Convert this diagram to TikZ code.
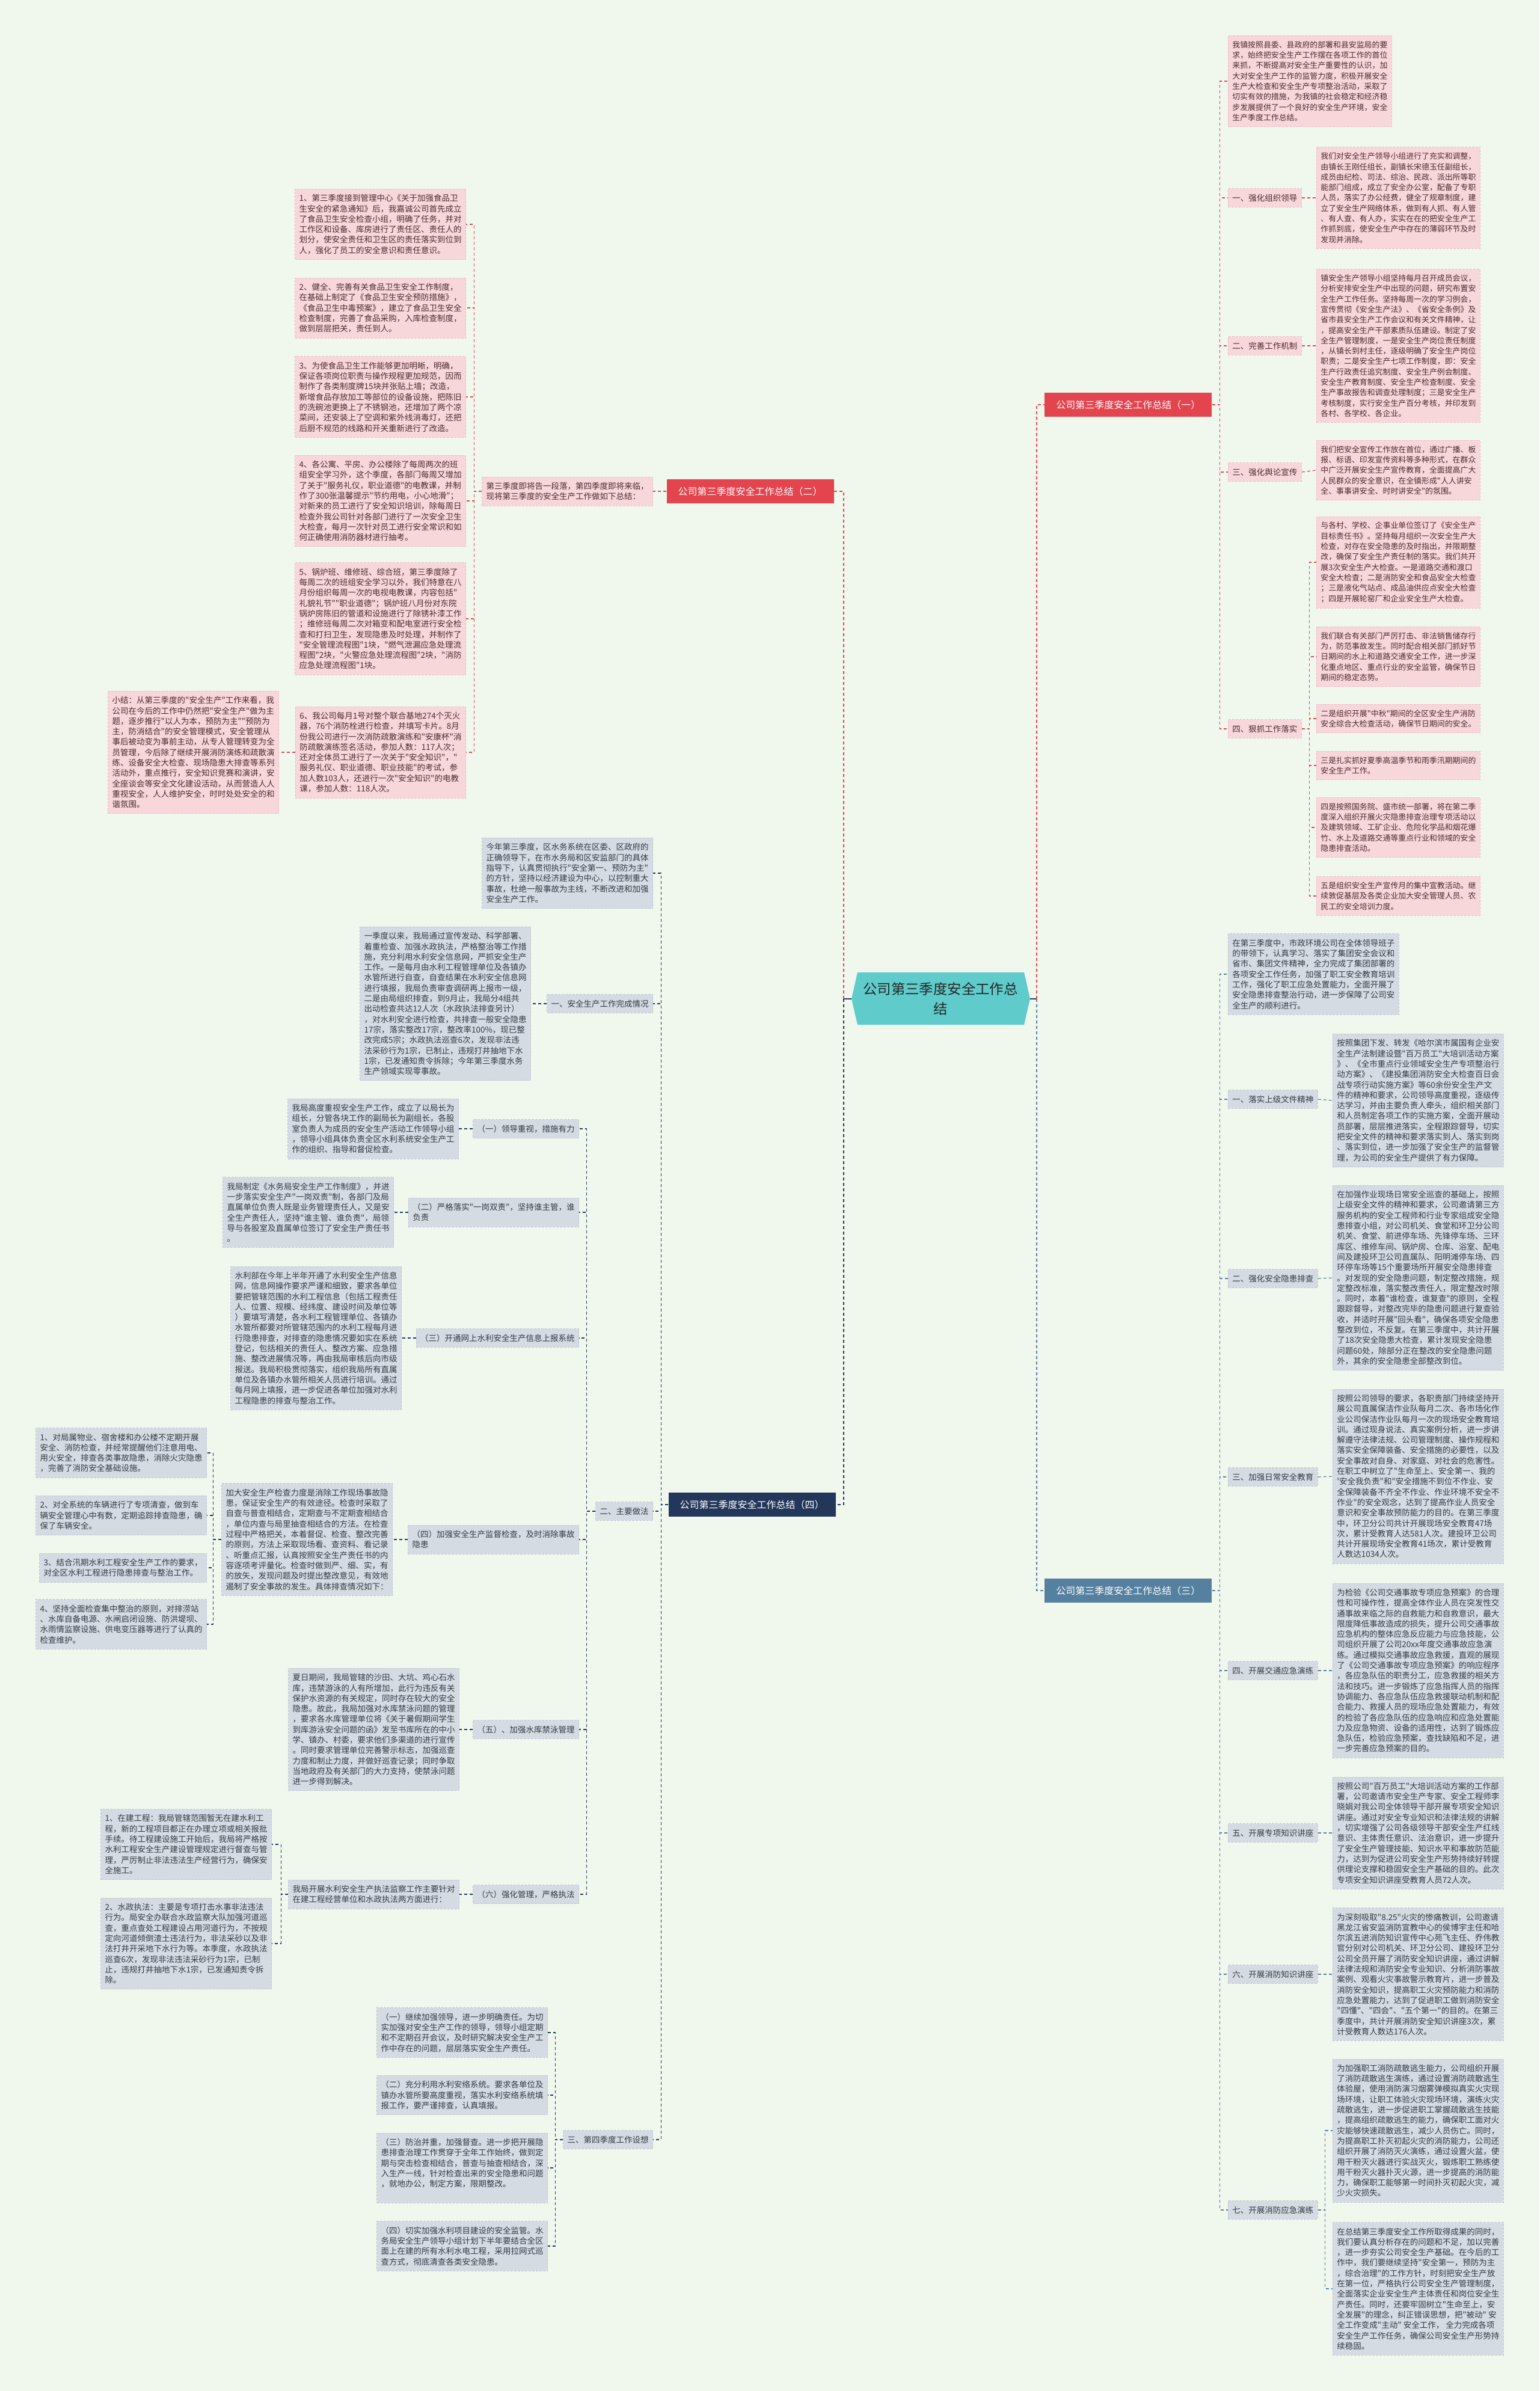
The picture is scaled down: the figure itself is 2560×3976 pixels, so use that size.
\documentclass[tikz,border=0pt]{standalone}
\usepackage{fontspec}
\newfontfamily\cjk{Noto Sans CJK SC}
\definecolor{bgc}{HTML}{F0F8EE}
\definecolor{pkfill}{HTML}{F8D7DB}
\definecolor{pkedge}{HTML}{EDBBC1}
\definecolor{pktext}{HTML}{4D2A2C}
\definecolor{gyfill}{HTML}{D5DBE3}
\definecolor{gyedge}{HTML}{BFC7D2}
\definecolor{gytext}{HTML}{333A44}
\definecolor{redbr}{HTML}{E3444E}
\definecolor{navybr}{HTML}{22375A}
\definecolor{steelbr}{HTML}{55809F}
\definecolor{ctrfill}{HTML}{5FCBCB}
\definecolor{ctredge}{HTML}{45B0AC}
\newcommand\setfs[1]{\fontsize{#1}{8.65}\selectfont}

\begin{document}
\begin{tikzpicture}[x=0.5pt,y=-0.5pt,
  box/.style={align=left,inner xsep=3.5pt,inner ysep=4.5pt,dash pattern=on 2pt off 1pt,line width=0.4pt},
  pk/.style={box,fill=pkfill,draw=pkedge,text=pktext,font=\cjk\setfs{6.75}},
  pkr/.style={pk,font=\cjk\setfs{6.45}},
  gy/.style={box,fill=gyfill,draw=gyedge,text=gytext,font=\cjk\setfs{6.75}},
  br/.style={font=\cjk\fontsize{8}{10}\selectfont,text=white,inner xsep=9.5pt,inner ysep=6pt},
  con/.style={line width=0.6pt,dash pattern=on 2.5pt off 2pt},
  lr/.style={con,draw=redbr},
  ln/.style={con,draw=navybr},
  ls/.style={con,draw=steelbr}]
\fill[bgc] (0,0) rectangle (2560,3976);

% centre
\fill[ctrfill] (1426,1617) -- (1703,1617) -- (1713,1661) -- (1703,1704) -- (1426,1704) -- (1416,1661) -- cycle;
\node[align=center,text=black!85,font=\cjk\fontsize{11.7}{16.5}\selectfont] (ctr) at (1564,1661) {公司第三季度安全工作总\\结};

% main branches
\node[br,fill=redbr,anchor=west] (b1) at (1737,673) {公司第三季度安全工作总结（一）};
\node[br,fill=redbr,anchor=east] (b2) at (1387,817) {公司第三季度安全工作总结（二）};
\node[br,fill=steelbr,anchor=west] (b3) at (1737,2645) {公司第三季度安全工作总结（三）};
\node[br,fill=navybr,anchor=east] (b4) at (1390,2502) {公司第三季度安全工作总结（四）};
\draw[navybr,line width=0.6pt] (1713,1661) -- (1724,1661) (1416,1661) -- (1403,1661);
\draw[lr] (1724,1661) |- (b1.west);
\draw[ls] (1724,1661) |- (b3.west);
\draw[lr] (1403,1661) |- (b2.east);
\draw[ln] (1403,1661) |- (b4.east);

% ---- branch one (right, pink)
\node[pkr,anchor=west] (r1intro) at (2042,135) {我镇按照县委、县政府的部署和县安监局的要\\求，始终把安全生产工作摆在各项工作的首位\\来抓，不断提高对安全生产重要性的认识，加\\大对安全生产工作的监管力度，积极开展安全\\生产大检查和安全生产专项整治活动，采取了\\切实有效的措施，为我镇的社会稳定和经济稳\\步发展提供了一个良好的安全生产环境，安全\\生产季度工作总结。};
\node[pk,anchor=west] (r1l1) at (2042,329) {一、强化组织领导};
\node[pkr,anchor=west] (r1t1) at (2189,329) {我们对安全生产领导小组进行了充实和调整，\\由镇长王刚任组长，副镇长宋德玉任副组长，\\成员由纪检、司法、综治、民政、派出所等职\\能部门组成，成立了安全办公室，配备了专职\\人员，落实了办公经费，健全了规章制度，建\\立了安全生产网络体系，做到有人抓、有人管\\、有人查、有人办，实实在在的把安全生产工\\作抓到底，使安全生产中存在的薄弱环节及时\\发现并消除。};
\node[pk,anchor=west] (r1l2) at (2042,575) {二、完善工作机制};
\node[pkr,anchor=west] (r1t2) at (2189,575) {镇安全生产领导小组坚持每月召开成员会议，\\分析安排安全生产中出现的问题，研究布置安\\全生产工作任务。坚持每周一次的学习例会，\\宣传贯彻《安全生产法》、《省安全条例》及\\省市县安全生产工作会议和有关文件精神，让\\，提高安全生产干部素质队伍建设。制定了安\\全生产管理制度，一是安全生产岗位责任制度\\，从镇长到村主任，逐级明确了安全生产岗位\\职责；二是安全生产七项工作制度，即：安全\\生产行政责任追究制度、安全生产例会制度、\\安全生产教育制度、安全生产检查制度、安全\\生产事故报告和调查处理制度；三是安全生产\\考核制度，实行安全生产百分考核，并印发到\\各村、各学校、各企业。};
\node[pk,anchor=west] (r1l3) at (2042,785) {三、强化舆论宣传};
\node[pkr,anchor=west] (r1t3) at (2189,782) {我们把安全宣传工作放在首位，通过广播、板\\报、标语、印发宣传资料等多种形式，在群众\\中广泛开展安全生产宣传教育，全面提高广大\\人民群众的安全意识，在全镇形成"人人讲安\\全、事事讲安全、时时讲安全"的氛围。};
\node[pk,anchor=west] (r1l4) at (2042,1212) {四、狠抓工作落实};
\node[pkr,anchor=west] (r1u1) at (2189,935) {与各村、学校、企事业单位签订了《安全生产\\目标责任书》。坚持每月组织一次安全生产大\\检查，对存在安全隐患的及时指出，并限期整\\改，确保了安全生产责任制的落实。我们共开\\展3次安全生产大检查。一是道路交通和渡口\\安全大检查；二是消防安全和食品安全大检查\\；三是液化气站点、成品油供应点安全大检查\\；四是开展轮窑厂和企业安全生产大检查。};
\node[pkr,anchor=west] (r1u2) at (2189,1092) {我们联合有关部门严厉打击、非法销售储存行\\为，防范事故发生。同时配合相关部门抓好节\\日期间的水上和道路交通安全工作，进一步深\\化重点地区、重点行业的安全监管，确保节日\\期间的稳定态势。};
\node[pkr,anchor=west] (r1u3) at (2189,1195) {二是组织开展"中秋"期间的全区安全生产消防\\安全综合大检查活动，确保节日期间的安全。};
\node[pkr,anchor=west] (r1u4) at (2189,1273) {三是扎实抓好夏季高温季节和雨季汛期期间的\\安全生产工作。};
\node[pkr,anchor=west] (r1u5) at (2189,1376) {四是按照国务院、盛市统一部署，将在第二季\\度深入组织开展火灾隐患排查治理专项活动以\\及建筑领域、工矿企业、危险化学品和烟花爆\\竹、水上及道路交通等重点行业和领域的安全\\隐患排查活动。};
\node[pkr,anchor=west] (r1u6) at (2189,1490) {五是组织安全生产宣传月的集中宣教活动。继\\续敦促基层及各类企业加大安全管理人员、农\\民工的安全培训力度。};
\foreach \n in {r1intro,r1l1,r1l2,r1l3,r1l4}
  \draw[lr] (b1.east) -- ++(13,0) |- (\n.west);
\foreach \n in {1,2,3}
  \draw[lr] (r1l\n.east) -- (r1t\n.west);
\foreach \n in {1,...,6}
  \draw[lr] (r1l4.east) -- ++(13,0) |- (r1u\n.west);

% ---- branch three (right, grey)
\node[gy,anchor=west] (r3intro) at (2042,1620) {在第三季度中，市政环境公司在全体领导班子\\的带领下，认真学习、落实了集团安全会议和\\省市、集团文件精神，全力完成了集团部署的\\各项安全工作任务，加强了职工安全教育培训\\工作，强化了职工应急处置能力，全面开展了\\安全隐患排查整治行动，进一步保障了公司安\\全生产的顺利进行。};
\node[gy,anchor=west] (r3l1) at (2042,1828) {一、落实上级文件精神};
\node[gy,anchor=west] (r3t1) at (2216,1830) {按照集团下发、转发《哈尔滨市属国有企业安\\全生产法制建设暨"百万员工"大培训活动方案\\》、《全市重点行业领域安全生产专项整治行\\动方案》、《建投集团消防安全大检查百日会\\战专项行动实施方案》等60余份安全生产文\\件的精神和要求，公司领导高度重视，逐级传\\达学习，并由主要负责人牵头，组织相关部门\\和人员制定各项工作的实施方案，全面开展动\\员部署，层层推进落实，全程跟踪督导，切实\\把安全文件的精神和要求落实到人、落实到岗\\、落实到位，进一步加强了安全生产的监督管\\理，为公司的安全生产提供了有力保障。};
\node[gy,anchor=west] (r3l2) at (2042,2126) {二、强化安全隐患排查};
\node[gy,anchor=west] (r3t2) at (2216,2125) {在加强作业现场日常安全巡查的基础上，按照\\上级安全文件的精神和要求，公司邀请第三方\\服务机构的安全工程师和行业专家组成安全隐\\患排查小组，对公司机关、食堂和环卫分公司\\机关、食堂、前进停车场、先锋停车场、三环\\库区、维修车间、锅炉房、仓库、浴室、配电\\间及建投环卫公司直属队、阳明滩停车场、四\\环停车场等15个重要场所开展安全隐患排查\\。对发现的安全隐患问题，制定整改措施，规\\定整改标准，落实整改责任人，限定整改时限\\。同时，本着"谁检查，谁复查"的原则，全程\\跟踪督导，对整改完毕的隐患问题进行复查验\\收，并适时开展"回头看"，确保各项安全隐患\\整改到位，不反复。在第三季度中，共计开展\\了18次安全隐患大检查，累计发现安全隐患\\问题60处，除部分正在整改的安全隐患问题\\外，其余的安全隐患全部整改到位。};
\node[gy,anchor=west] (r3l3) at (2042,2456) {三、加强日常安全教育};
\node[gy,anchor=west] (r3t3) at (2216,2455) {按照公司领导的要求，各职责部门持续坚持开\\展公司直属保洁作业队每月二次、各市场化作\\业公司保洁作业队每月一次的现场安全教育培\\训。通过现身说法、真实案例分析，进一步讲\\解遵守法律法规、公司管理制度、操作规程和\\落实安全保障装备、安全措施的必要性，以及\\安全事故对自身、对家庭、对社会的危害性。\\在职工中树立了"生命至上、安全第一、我的\\'安全我负责"和"安全措施不到位不作业、安\\全保障装备不齐全不作业、作业环境不安全不\\作业"的安全观念，达到了提高作业人员安全\\意识和安全事故预防能力的目的。在第三季度\\中，环卫分公司共计开展现场安全教育47场\\次，累计受教育人达581人次。建投环卫公司\\共计开展现场安全教育41场次，累计受教育\\人数达1034人次。};
\node[gy,anchor=west] (r3l4) at (2042,2778) {四、开展交通应急演练};
\node[gy,anchor=west] (r3t4) at (2216,2778) {为检验《公司交通事故专项应急预案》的合理\\性和可操作性，提高全体作业人员在突发性交\\通事故来临之际的自救能力和自救意识，最大\\限度降低事故造成的损失，提升公司交通事故\\应急机构的整体应急反应能力与应急技能，公\\司组织开展了公司20xx年度交通事故应急演\\练。通过模拟交通事故应急救援，直观的展现\\了《公司交通事故专项应急预案》的响应程序\\，各应急队伍的职责分工，应急救援的相关方\\法和技巧。进一步锻炼了应急指挥人员的指挥\\协调能力、各应急队伍应急救援联动机制和配\\合能力、救援人员的现场应急处置能力，有效\\的检验了各应急队伍的应急响应和应急处置能\\力及应急物资、设备的适用性，达到了锻炼应\\急队伍，检验应急预案，查找缺陷和不足，进\\一步完善应急预案的目的。};
\node[gy,anchor=west] (r3l5) at (2042,3048) {五、开展专项知识讲座};
\node[gy,anchor=west] (r3t5) at (2216,3048) {按照公司"百万员工"大培训活动方案的工作部\\署，公司邀请市安全生产专家、安全工程师李\\晓娟对我公司全体领导干部开展专项安全知识\\讲座。通过对安全专业知识和法律法规的讲解\\，切实增强了公司各级领导干部安全生产红线\\意识、主体责任意识、法治意识，进一步提升\\了安全生产管理技能、知识水平和事故防范能\\力，达到为促进公司安全生产形势持续好转提\\供理论支撑和稳固安全生产基础的目的。此次\\专项安全知识讲座受教育人员72人次。};
\node[gy,anchor=west] (r3l6) at (2042,3283) {六、开展消防知识讲座};
\node[gy,anchor=west] (r3t6) at (2216,3283) {为深刻吸取"8.25"火灾的惨痛教训，公司邀请\\黑龙江省安监消防宣教中心的侯博宇主任和哈\\尔滨五进消防知识宣传中心苑飞主任、乔伟教\\官分别对公司机关、环卫分公司、建投环卫分\\公司全员开展了消防安全知识讲座，通过讲解\\法律法规和消防安全专业知识、分析消防事故\\案例、观看火灾事故警示教育片，进一步普及\\消防安全知识，提高职工火灾预防能力和消防\\应急处置能力，达到了促进职工做到消防安全\\"四懂"、"四会"、"五个第一"的目的。在第三\\季度中，共计开展消防安全知识讲座3次，累\\计受教育人数达176人次。};
\node[gy,anchor=west] (r3l7) at (2042,3675) {七、开展消防应急演练};
\node[gy,anchor=west] (r3u1) at (2216,3543) {为加强职工消防疏散逃生能力，公司组织开展\\了消防疏散逃生演练，通过设置消防疏散逃生\\体验屋，使用消防演习烟雾弹模拟真实火灾现\\场环境，让职工体验火灾现场环境，演练火灾\\疏散逃生，进一步促进职工掌握疏散逃生技能\\，提高组织疏散逃生的能力，确保职工面对火\\灾能够快速疏散逃生，减少人员伤亡。同时，\\为提高职工扑灭初起火灾的消防能力，公司还\\组织开展了消防灭火演练，通过设置火盆，使\\用干粉灭火器进行实战灭火，锻炼职工熟练使\\用干粉灭火器扑灭火源，进一步提高的消防能\\力，确保职工能够第一时间扑灭初起火灾，减\\少火灾损失。};
\node[gy,anchor=west] (r3u2) at (2216,3806) {在总结第三季度安全工作所取得成果的同时，\\我们要认真分析存在的问题和不足，加以完善\\，进一步夯实公司安全生产基础。在今后的工\\作中，我们要继续坚持"安全第一，预防为主\\，综合治理"的工作方针，时刻把安全生产放\\在第一位，严格执行公司安全生产管理制度，\\全面落实企业安全生产主体责任和岗位安全生\\产责任。同时，还要牢固树立"生命至上，安\\全发展"的理念，纠正错误思想，把"被动" 安\\全工作变成"主动" 安全工作， 全力完成各项\\安全生产工作任务，确保公司安全生产形势持\\续稳固。};
\foreach \n in {r3intro,r3l1,r3l2,r3l3,r3l4,r3l5,r3l6,r3l7}
  \draw[ls] (b3.east) -- ++(13,0) |- (\n.west);
\foreach \n in {1,...,6}
  \draw[ls] (r3l\n.east) -- (r3t\n.west);
\foreach \n in {1,2}
  \draw[ls] (r3l7.east) -- ++(12,0) |- (r3u\n.west);

% ---- branch two (left, pink)
\node[pk,anchor=east] (l2intro) at (1086,817) {第三季度即将告一段落，第四季度即将来临，\\现将第三季度的安全生产工作做如下总结：};
\node[pk,anchor=east] (l2a) at (775,373) {1、第三季度接到管理中心《关于加强食品卫\\生安全的紧急通知》后，我嘉诚公司首先成立\\了食品卫生安全检查小组，明确了任务，并对\\工作区和设备、库房进行了责任区、责任人的\\划分，使安全责任和卫生区的责任落实到位到\\人，强化了员工的安全意识和责任意识。};
\node[pk,anchor=east] (l2b) at (775,512) {2、健全、完善有关食品卫生安全工作制度，\\在基础上制定了《食品卫生安全预防措施》，\\《食品卫生中毒预案》，建立了食品卫生安全\\检查制度，完善了食品采购，入库检查制度，\\做到层层把关，责任到人。};
\node[pk,anchor=east] (l2c) at (775,660) {3、为使食品卫生工作能够更加明晰，明确，\\保证各项岗位职责与操作规程更加规范，因而\\制作了各类制度牌15块并张贴上墙；改造，\\新增食品存放加工等部位的设备设施，把陈旧\\的洗碗池更换上了不锈钢池，还增加了两个凉\\菜间，还安装上了空调和紫外线消毒灯，还把\\后厨不规范的线路和开关重新进行了改造。};
\node[pk,anchor=east] (l2d) at (775,833) {4、各公寓、平房、办公楼除了每周两次的班\\组安全学习外，这个季度，各部门每周又增加\\了关于"服务礼仪，职业道德"的电教课，并制\\作了300张温馨提示"节约用电，小心地滑"；\\对新来的员工进行了安全知识培训，除每周日\\检查外我公司针对各部门进行了一次安全卫生\\大检查，每月一次针对员工进行安全常识和如\\何正确使用消防器材进行抽考。};
\node[pk,anchor=east] (l2e) at (775,1029) {5、锅炉班、维修班、综合班，第三季度除了\\每周二次的班组安全学习以外，我们特意在八\\月份组织每周一次的电视电教课，内容包括"\\礼貌礼节""职业道德"；锅炉班八月份对东院\\锅炉房陈旧的管道和设施进行了除锈补漆工作\\；维修班每周二次对箱变和配电室进行安全检\\查和打扫卫生，发现隐患及时处理，并制作了\\"安全管理流程图"1块，"燃气泄漏应急处理流\\程图"2块，"火警应急处理流程图"2块，"消防\\应急处理流程图"1块。};
\node[pk,anchor=east] (l2f) at (775,1251) {6、我公司每月1号对整个联合基地274个灭火\\器，76个消防栓进行检查，并填写卡片。8月\\份我公司进行一次消防疏散演练和"安康杯"消\\防疏散演练签名活动，参加人数：117人次；\\还对全体员工进行了一次关于"安全知识"，"\\服务礼仪、职业道德、职业技能"的考试，参\\加人数103人，还进行一次"安全知识"的电教\\课，参加人数：118人次。};
\node[pk,anchor=east] (l2sum) at (464,1251) {小结：从第三季度的"安全生产"工作来看，我\\公司在今后的工作中仍然把"安全生产"做为主\\题，逐步推行"以人为本，预防为主""预防为\\主，防消结合"的安全管理模式，安全管理从\\事后被动变为事前主动，从专人管理转变为全\\员管理，今后除了继续开展消防演练和疏散演\\练、设备安全大检查、现场隐患大排查等系列\\活动外，重点推行，安全知识竞赛和演讲，安\\全座谈会等安全文化建设活动，从而营造人人\\重视安全，人人维护安全，时时处处安全的和\\谐氛围。};
\draw[lr] (b2.west) -- (l2intro.east);
\foreach \n in {a,b,c,d,e,f}
  \draw[lr] (l2intro.west) -- ++(-13,0) |- (l2\n.east);
\draw[lr] (l2f.west) -- (l2sum.east);

% ---- branch four (left, grey)
\node[gy,anchor=east] (l4intro) at (1086,1452) {今年第三季度，区水务系统在区委、区政府的\\正确领导下，在市水务局和区安监部门的具体\\指导下，认真贯彻执行"安全第一、预防为主"\\的方针，坚持以经济建设为中心，以控制重大\\事故，杜绝一般事故为主线，不断改进和加强\\安全生产工作。};
\node[gy,anchor=east] (l4s1) at (1086,1669) {一、安全生产工作完成情况};
\node[gy,anchor=east] (l4s1t) at (883,1669) {一季度以来，我局通过宣传发动、科学部署、\\着重检查、加强水政执法，严格整治等工作措\\施，充分利用水利安全信息网，严抓安全生产\\工作。一是每月由水利工程管理单位及各镇办\\水管所进行自查，自查结果在水利安全信息网\\进行填报，我局负责审查调研再上报市一级，\\二是由局组织排查，到9月止，我局分4组共\\出动检查共达12人次（水政执法排查另计）\\，对水利安全进行检查，共排查一般安全隐患\\17宗，落实整改17宗，整改率100\%，现已整\\改完成5宗；水政执法巡查6次，发现非法违\\法采砂行为1宗，已制止，违规打井抽地下水\\1宗，已发通知责令拆除；今年第三季度水务\\生产领域实现零事故。};
\node[gy,anchor=east] (l4s2) at (1086,2513) {二、主要做法};
\node[gy,anchor=east] (l4s3) at (1086,3558) {三、第四季度工作设想};
\foreach \n in {l4intro,l4s1,l4s2,l4s3}
  \draw[ln] (b4.west) -- ++(-12,0) |- (\n.east);
\draw[ln] (l4s1.west) -- (l4s1t.east);

% main practices
\node[gy,anchor=east] (mp1) at (963,1877) {（一）领导重视，措施有力};
\node[gy,anchor=east] (mp1t) at (763,1877) {我局高度重视安全生产工作，成立了以局长为\\组长，分管各块工作的副局长为副组长，各股\\室负责人为成员的安全生产活动工作领导小组\\，领导小组具体负责全区水利系统安全生产工\\作的组织、指导和督促检查。};
\node[gy,anchor=east] (mp2) at (963,2016) {（二）严格落实"一岗双责"，坚持谁主管，谁\\负责};
\node[gy,anchor=east] (mp2t) at (655,2016) {我局制定《水务局安全生产工作制度》，并进\\一步落实安全生产"一岗双责"制，各部门及局\\直属单位负责人既是业务管理责任人，又是安\\全生产责任人，坚持"谁主管、谁负责"，局领\\导与各股室及直属单位签订了安全生产责任书\\。};
\node[gy,anchor=east] (mp3) at (963,2225) {（三）开通网上水利安全生产信息上报系统};
\node[gy,anchor=east] (mp3t) at (668,2225) {水利部在今年上半年开通了水利安全生产信息\\网，信息网操作要求严谨和细致，要求各单位\\要把管辖范围的水利工程信息（包括工程责任\\人、位置、规模、经纬度、建设时间及单位等\\）要填写清楚，各水利工程管理单位、各镇办\\水管所都要对所管辖范围内的水利工程每月进\\行隐患排查，对排查的隐患情况要如实在系统\\登记，包括相关的责任人、整改方案、应急措\\施、整改进展情况等，再由我局审核后向市级\\报送。我局积极贯彻落实，组织我局所有直属\\单位及各镇办水管所相关人员进行培训。通过\\每月网上填报，进一步促进各单位加强对水利\\工程隐患的排查与整治工作。};
\node[gy,anchor=east] (mp4) at (963,2560) {（四）加强安全生产监督检查，及时消除事故\\隐患};
\node[gy,anchor=east] (mp4t) at (653,2560) {加大安全生产检查力度是消除工作现场事故隐\\患，保证安全生产的有效途径。检查时采取了\\自查与普查相结合，定期查与不定期查相结合\\，单位内查与局里抽查相结合的方法。在检查\\过程中严格把关，本着督促、检查、整改完善\\的原则，方法上采取现场看、查资料、看记录\\、听重点汇报，认真按照安全生产责任书的内\\容逐项考评量化。检查时做到严、细、实，有\\的放矢，发现问题及时提出整改意见，有效地\\遏制了安全事故的发生。具体排查情况如下：};
\node[gy,anchor=east] (mp4a) at (344,2416) {1、对局属物业、宿舍楼和办公楼不定期开展\\安全、消防检查，并经常提醒他们注意用电、\\用火安全，排查各类事故隐患，消除火灾隐患\\，完善了消防安全基础设施。};
\node[gy,anchor=east] (mp4b) at (344,2520) {2、对全系统的车辆进行了专项清查，做到车\\辆安全管理心中有数，定期追踪排查隐患，确\\保了车辆安全。};
\node[gy,anchor=east] (mp4c) at (344,2607) {3、结合汛期水利工程安全生产工作的要求，\\对全区水利工程进行隐患排查与整治工作。};
\node[gy,anchor=east] (mp4d) at (344,2701) {4、坚持全面检查集中整治的原则，对排涝站\\、水库自备电源、水闸启闭设施、防洪堤坝、\\水雨情监察设施、供电变压器等进行了认真的\\检查维护。};
\node[gy,anchor=east] (mp5) at (963,2876) {（五）、加强水库禁泳管理};
\node[gy,anchor=east] (mp5t) at (764,2876) {夏日期间，我局管辖的沙田、大坑、鸡心石水\\库，违禁游泳的人有所增加，此行为违反有关\\保护水资源的有关规定，同时存在较大的安全\\隐患。故此，我局加强对水库禁泳问题的管理\\，要求各水库管理单位将《关于暑假期间学生\\到库游泳安全问题的函》发至书库所在的中小\\学、镇办、村委，要求他们多渠道的进行宣传\\。同时要求管理单位完善警示标志，加强巡查\\力度和制止力度，并做好巡查记录；同时争取\\当地政府及有关部门的大力支持，使禁泳问题\\进一步得到解决。};
\node[gy,anchor=east] (mp6) at (963,3150) {（六）强化管理，严格执法};
\node[gy,anchor=east] (mp6t) at (764,3150) {我局开展水利安全生产执法监察工作主要针对\\在建工程经营单位和水政执法两方面进行：};
\node[gy,anchor=east] (mp6a) at (452,3067) {1、在建工程：我局管辖范围暂无在建水利工\\程，新的工程项目都正在办理立项或相关报批\\手续。待工程建设施工开始后，我局将严格按\\水利工程安全生产建设管理规定进行督查与管\\理，严厉制止非法违法生产经营行为，确保安\\全施工。};
\node[gy,anchor=east] (mp6b) at (452,3232) {2、水政执法：主要是专项打击水事非法违法\\行为。局安全办联合水政监察大队加强河道巡\\查，重点查处工程建设占用河道行为，不按规\\定向河道倾倒渣土违法行为，非法采砂以及非\\法打井开采地下水行为等。本季度，水政执法\\巡查6次，发现非法违法采砂行为1宗，已制\\止，违规打井抽地下水1宗，已发通知责令拆\\除。};
\foreach \n in {1,...,6}
  \draw[ln] (l4s2.west) -- ++(-15,0) |- (mp\n.east);
\foreach \n in {1,...,6}
  \draw[ln] (mp\n.west) -- (mp\n t.east);
\foreach \n in {a,b,c,d}
  \draw[ln] (mp4t.west) -- ++(-14,0) |- (mp4\n.east);
\foreach \n in {a,b}
  \draw[ln] (mp6t.west) -- ++(-12,0) |- (mp6\n.east);

% fourth quarter plans
\node[gy,anchor=east] (q4a) at (911,3380) {（一）继续加强领导，进一步明确责任。为切\\实加强对安全生产工作的领导，领导小组定期\\和不定期召开会议，及时研究解决安全生产工\\作中存在的问题，层层落实安全生产责任。};
\node[gy,anchor=east] (q4b) at (911,3484) {（二）充分利用水利安络系统。要求各单位及\\镇办水管所要高度重视，落实水利安络系统填\\报工作，要严谨排查，认真填报。};
\node[gy,anchor=east] (q4c) at (911,3605) {（三）防治并重，加强督查。进一步把开展隐\\患排查治理工作贯穿于全年工作始终，做到定\\期与突击检查相结合，普查与抽查相结合，深\\入生产一线，针对检查出来的安全隐患和问题\\，就地办公，制定方案，限期整改。\\~};
\node[gy,anchor=east] (q4d) at (911,3735) {（四）切实加强水利项目建设的安全监管。水\\务局安全生产领导小组计划下半年要结合全区\\面上在建的所有水利水电工程，采用拉网式巡\\查方式，彻底清查各类安全隐患。};
\foreach \n in {a,b,c,d}
  \draw[ln] (l4s3.west) -- ++(-13,0) |- (q4\n.east);
\end{tikzpicture}
\end{document}
